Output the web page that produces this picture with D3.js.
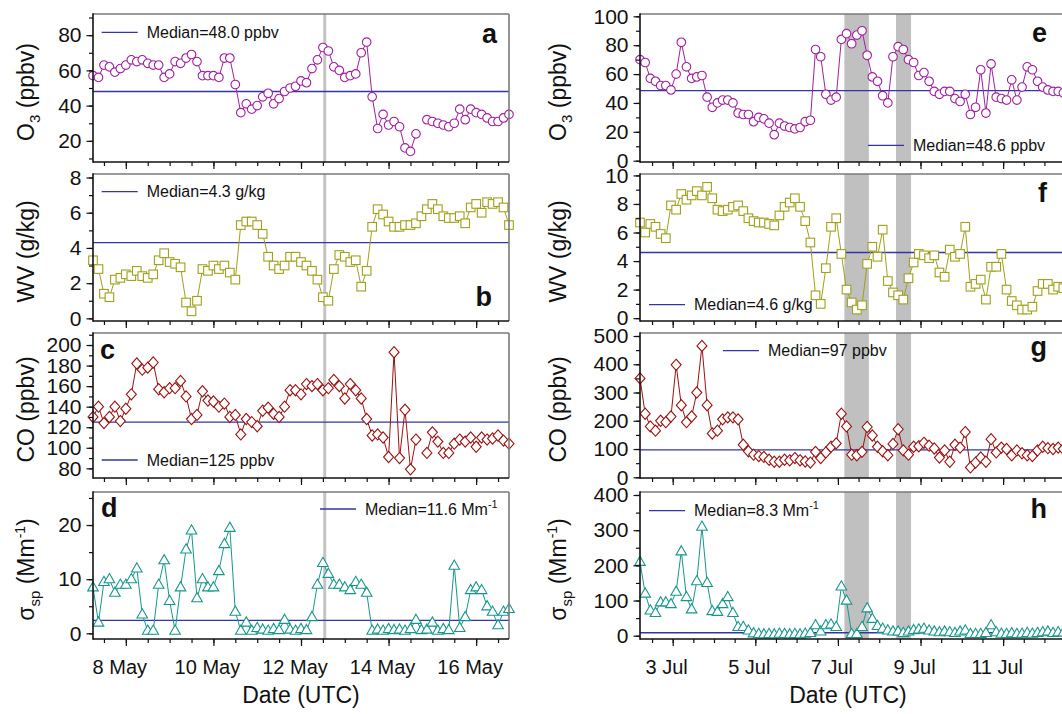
<!DOCTYPE html>
<html><head><meta charset="utf-8">
<script src="https://cdn.jsdelivr.net/npm/d3@7"></script>
<style>body{margin:0;background:#fff}svg text{font-family:Arial,"Liberation Sans",sans-serif;fill:#111}</style>
</head><body><svg id="chart" width="1062" height="714"></svg>
<script>
// ---------------- DATA ----------------
const stepHours = 3;
const mayStart = Date.UTC(2017, 4, 7, 6);
const julStart = Date.UTC(2017, 6, 2, 5);

const o3May = [57,56,63,62,59,61,63,66,65,66, 64,63,63,56,58,65,64,67,69,65, 57,57,57,56,67,67,52,36,41,38, 40,45,47,41,44,48,50,51,54,53, 61,66,73,71,62,60,56,57,58,70, 76,45,27,35,29,31,28,16,14,24, null,32,31,30,29,28,30,38,32,38, 36,35,33,31,31,33,35];
const wvMay = [3.3,2.8,1.4,1.2,2.2,2.3,2.5,2.4,2.7,2.4, 2.3,2.5,3.3,3.7,3.2,3.1,2.9,0.9,0.4,1.0, 2.8,2.7,3.0,2.8,3.0,2.6,2.2,5.3,5.5,5.5, 5.3,4.8,3.5,3.0,2.8,3.0,3.5,3.5,3.2,3.0, 2.7,2.2,1.2,1.0,2.8,3.6,3.5,3.2,3.3,1.8, 2.7,5.2,6.2,5.9,5.5,5.2,5.2,5.3,5.3,5.4, 5.8,6.2,6.5,6.2,5.8,5.7,5.7,5.8,5.4,6.3, 6.5,6.0,6.6,6.5,6.6,6.3,5.3];
const coMay = [130,140,124,130,140,126,138,152,182,176, 178,183,157,154,158,158,165,150,128,132, 155,146,145,140,143,130,132,113,128,125, 121,136,139,133,130,140,156,156,152,162, 160,162,156,158,166,160,148,162,156,148, 128,112,113,110,91,193,90,137,79,108, null,95,115,106,95,95,104,108,106,110, 101,110,108,109,112,107,104];
const sspMay = [8.5,2,9.5,10,7.5,9,9,10,12,3.5, 0.5,0.5,9,13.5,6,0.5,8.5,15.5,19,6.5, 10,8.5,8.5,11.5,16.5,19.5,4,0.5,2,0.5, 1,0.7,0.5,0.8,0.6,2.5,0.7,0.5,0.8,0.6, 3,9,13,11,9,9,8.5,8,9.5,9, 7.5,0.5,0.7,0.5,0.8,0.6,0.7,0.5,0.8,2.5, 0.6,0.7,2,0.5,0.8,0.6,12.5,1,3,8, 8.5,8,5,4,1.5,4,4.5];

const o3Jul = [70,68,57,55,52,52,49,60,82,65, 57,58,59,44,37,40,42,42,40,33, 32,32,27,30,29,26,18,26,24,23, 22,23,27,28,77,72,46,42,44,84, 88,81,87,90,73,58,55,45,40,72, 79,77,70,68,59,61,55,48,46,48, 48,43,41,46,32,37,63,33,67,44, 43,42,56,42,51,65,63,55,51,49, 48,48,47];
const wvJul = [6.7,6.0,6.6,6.4,5.9,5.6,7.9,7.6,8.7,8.3, 8.6,8.9,8.6,9.2,8.4,7.6,7.5,7.6,7.8,7.9, 7.5,7.0,6.8,6.7,6.7,6.6,6.5,7.2,7.8,8.1, 8.4,7.8,6.8,5.3,1.6,1.0,3.5,6.4,7.0,4.5, 2.0,1.1,0.6,0.9,3.8,5.0,4.3,6.2,2.6,1.8, 1.6,1.3,2.8,3.9,4.5,4.4,4.2,4.4,3.2,2.9, 4.8,4.3,4.5,6.4,2.2,2.4,2.7,1.3,3.6,3.6, 4.5,2.0,1.2,0.9,0.6,0.6,0.8,1.9,2.4,2.4, 2.0,2.2,2.1];
const coJul = [350,225,180,165,200,195,215,398,255,195, 215,300,465,255,155,165,205,212,212,205, 115,92,80,75,72,62,55,55,62,60, 68,60,56,52,90,68,88,108,120,225, 180,80,78,90,178,148,108,92,78,118, 170,95,80,108,110,122,112,102,70,95, 55,115,105,160,35,52,70,55,135,88, 105,100,78,95,85,78,75,95,108,103, 100,105,100];
const sspJul = [210,120,72,65,95,95,90,125,240,110, 75,155,310,150,70,68,90,110,65,25, 25,15,7,5,4,5,4,6,5,4, 5,4,6,8,30,12,30,32,25,140, 100,5,5,25,78,48,28,20,15,12, 12,8,12,16,18,20,15,12,10,12, 10,8,12,15,5,5,5,8,30,10, 6,5,7,5,6,8,6,8,10,12, 8,10,9];

const mediansMay = [48.0, 4.3, 125, 2.4];
const mediansJul = [48.6, 4.6, 97, 8.3];
const medianTextMay = [["Median=48.0 ppbv",""],["Median=4.3 g/kg",""],["Median=125 ppbv",""],["Median=11.6 Mm","-1"]];
const medianTextJul = [["Median=48.6 ppbv",""],["Median=4.6 g/kg",""],["Median=97 ppbv",""],["Median=8.3 Mm","-1"]];
const lettersMay = ["a","b","c","d"];
const lettersJul = ["e","f","g","h"];
const yTicksMay = [[20,40,60,80],[0,2,4,6,8],[80,100,120,140,160,180,200],[0,10,20]];
const yTicksJul = [[0,20,40,60,80,100],[0,2,4,6,8,10],[0,100,200,300,400,500],[0,100,200,300,400]];
const xTickLabelsMay = ["8 May","10 May","12 May","14 May","16 May"];
const xTickDaysMay = [8,10,12,14,16];
const xTickLabelsJul = ["3 Jul","5 Jul","7 Jul","9 Jul","11 Jul"];
const xTickDaysJul = [3,5,7,9,11];
const markerLineMay = Date.UTC(2017, 4, 12, 13);
const shadedJul = [[Date.UTC(2017,6,7,3,45), Date.UTC(2017,6,7,18)], [Date.UTC(2017,6,8,9,45), Date.UTC(2017,6,8,18,30)]];

// ---------------- LAYOUT ----------------
const svg = d3.select("#chart");
const rowsY = [[14,162],[174,321],[333,478],[492,639]];
const colors = ["#a0209f","#a0a01c","#9b1111","#17978c"];
const shapes = ["circle","square","diamond","triangle"];
const medianColor = "#3434a8";

const cols = [
  { x0:93, x1:509, t0:mayStart, t1:Date.UTC(2017,4,16,18), start:mayStart,
    series:[o3May,wvMay,coMay,sspMay], medians:mediansMay, mtext:medianTextMay, letters:lettersMay,
    yTicks:yTicksMay, minorStep:[10,1,10,5], tickFont:21,
    yDomains:[[8,92],[-0.15,8.2],[70.6,211.7],[-1.05,26.1]],
    xLabels:xTickLabelsMay, xDays:xTickDaysMay, month:4, titleX:34, dateX:301,
    legend:[{x:101.7,y:32.3},{x:101.7,y:191.7},{x:101.7,y:460},{x:320,y:509}],
    letterPos:[{x:497,y:43,a:"end"},{x:492,y:306,a:"end"},{x:100,y:359,a:"start"},{x:101,y:517,a:"start"}] },
  { x0:640, x1:1075.4, t0:julStart, t1:Date.UTC(2017,6,12,18), start:julStart,
    series:[o3Jul,wvJul,coJul,sspJul], medians:mediansJul, mtext:medianTextJul, letters:lettersJul,
    yTicks:yTicksJul, minorStep:[10,1,50,50], tickFont:21,
    yDomains:[[-0.9,101.6],[-0.2,10.1],[-2.5,510.6],[-9.4,408.5]],
    xLabels:xTickLabelsJul, xDays:xTickDaysJul, month:6, titleX:566, dateX:848,
    legend:[{x:868,y:145.3},{x:649,y:304.7},{x:723,y:350.7},{x:649,y:510.7}],
    letterPos:[{x:1047,y:42,a:"end"},{x:1047,y:202,a:"end"},{x:1047,y:356,a:"end"},{x:1047,y:518,a:"end"}] }
];

function marker(sel, shape, color) {
  if (shape === "circle") sel.append("circle").attr("r", 4.3);
  else if (shape === "square") sel.append("rect").attr("x",-4.3).attr("y",-4.3).attr("width",8.6).attr("height",8.6);
  else if (shape === "diamond") sel.append("path").attr("d","M0,-5.6L5,0L0,5.6L-5,0Z");
  else sel.append("path").attr("d","M0,-5.6L5.3,3.6L-5.3,3.6Z");
  sel.selectAll("*").attr("fill","#fff").attr("stroke",color).attr("stroke-width",1.1);
}

function yTitle(g, row, x, cy) {
  const t = g.append("text").attr("transform",`translate(${x},${cy}) rotate(-90)`)
    .attr("text-anchor","middle").attr("font-size",23);
  if (row === 0) { t.append("tspan").text("O"); t.append("tspan").attr("font-size",15).attr("dy",6).text("3"); t.append("tspan").attr("dy",-6).text(" (ppbv)"); }
  else if (row === 1) t.text("WV (g/kg)");
  else if (row === 2) t.text("CO (ppbv)");
  else { t.append("tspan").text("σ"); t.append("tspan").attr("font-size",15).attr("dy",6).text("sp");
         t.append("tspan").attr("dy",-6).text(" (Mm"); t.append("tspan").attr("font-size",14).attr("dy",-9).text("-1");
         t.append("tspan").attr("dy",9).text(")"); }
}

cols.forEach(c => {
  const x = d3.scaleUtc().domain([c.t0, c.t1]).range([c.x0, c.x1]);
  const xMinor = d3.utcHour.every(12).range(new Date(c.t0), new Date(c.t1 + 1));
  const xMajor = c.xDays.map(d => new Date(Date.UTC(2017, c.month, d)));
  rowsY.forEach((ry, r) => {
    const g = svg.append("g");
    const y = d3.scaleLinear().domain(c.yDomains[r]).range([ry[1], ry[0]]);
    if (c.month === 4) {
      g.append("line").attr("x1",x(markerLineMay)).attr("x2",x(markerLineMay)).attr("y1",ry[0]).attr("y2",ry[1])
        .attr("stroke","#c4c4c4").attr("stroke-width",3);
    } else {
      shadedJul.forEach(s => g.append("rect").attr("x",x(s[0])).attr("width",x(s[1])-x(s[0]))
        .attr("y",ry[0]).attr("height",ry[1]-ry[0]).attr("fill","#c0c0c0"));
    }
    g.append("line").attr("x1",c.x0).attr("x2",c.x1).attr("y1",y(c.medians[r])).attr("y2",y(c.medians[r]))
      .attr("stroke",medianColor).attr("stroke-width",1.3);
    const pts = c.series[r].map((v,i) => ({t: c.start + i*stepHours*3600e3, v}));
    const line = d3.line().defined(d => d.v !== null).x(d => x(d.t)).y(d => y(d.v));
    g.append("path").attr("d", line(pts)).attr("fill","none").attr("stroke",colors[r]).attr("stroke-width",1);
    pts.filter(d => d.v !== null).forEach(d => {
      const m = g.append("g").attr("transform",`translate(${x(d.t)},${y(d.v)})`);
      marker(m, shapes[r], colors[r]);
    });
    g.append("line").attr("x1",c.x0).attr("x2",c.x1).attr("y1",ry[0]).attr("y2",ry[0]).attr("stroke","#7a7a7a").attr("stroke-width",1.6);
    g.append("line").attr("x1",c.x1).attr("x2",c.x1).attr("y1",ry[0]).attr("y2",ry[1]).attr("stroke","#7a7a7a").attr("stroke-width",1.6);
    g.append("line").attr("x1",c.x0).attr("x2",c.x0).attr("y1",ry[0]-0.8).attr("y2",ry[1]+0.8).attr("stroke","#111").attr("stroke-width",1.6);
    g.append("line").attr("x1",c.x0).attr("x2",c.x1).attr("y1",ry[1]).attr("y2",ry[1]).attr("stroke","#111").attr("stroke-width",1.6);
    const dom = c.yDomains[r];
    const minor = d3.range(Math.ceil(dom[0]/c.minorStep[r])*c.minorStep[r], dom[1], c.minorStep[r]);
    const ya = g.append("g").attr("transform",`translate(${c.x0},0)`)
      .call(d3.axisLeft(y).tickValues(minor).tickSize(4).tickFormat(""));
    const yb = g.append("g").attr("transform",`translate(${c.x0},0)`)
      .call(d3.axisLeft(y).tickValues(c.yTicks[r]).tickSize(6.5).tickPadding(5).tickFormat(d3.format("d")));
    [ya,yb].forEach(a => { a.select(".domain").remove(); a.selectAll("line").attr("stroke","#111").attr("stroke-width",1.2); });
    yb.selectAll("text").attr("font-size",c.tickFont).attr("font-family","Arial, Liberation Sans, sans-serif").attr("fill","#111");
    const xa = g.append("g").attr("transform",`translate(0,${ry[1]})`)
      .call(d3.axisBottom(x).tickValues(xMinor).tickSize(4).tickFormat(""));
    const xb = g.append("g").attr("transform",`translate(0,${ry[1]})`)
      .call(d3.axisBottom(x).tickValues(xMajor).tickSize(7).tickFormat(""));
    [xa,xb].forEach(a => { a.select(".domain").remove(); a.selectAll("line").attr("stroke","#111").attr("stroke-width",1.2); });
    if (r === 3) {
      xMajor.forEach((d,i) => g.append("text").attr("x", x(d)-6).attr("y", 674).attr("text-anchor","middle")
        .attr("font-size",20).text(c.xLabels[i]));
    }
    yTitle(g, r, c.titleX, (ry[0]+ry[1])/2 + 4);
    const L = c.legend[r];
    g.append("line").attr("x1",L.x).attr("x2",L.x+36).attr("y1",L.y).attr("y2",L.y).attr("stroke",medianColor).attr("stroke-width",1.3);
    const lt = g.append("text").attr("x",L.x+45).attr("y",L.y+5.5).attr("font-size",16);
    lt.append("tspan").text(c.mtext[r][0]);
    if (c.mtext[r][1]) lt.append("tspan").attr("font-size",11).attr("dy",-7).text(c.mtext[r][1]);
    const P = c.letterPos[r];
    g.append("text").attr("x",P.x).attr("y",P.y).attr("text-anchor",P.a).attr("font-size",27).attr("font-weight","bold").text(c.letters[r]);
  });
  svg.append("text").attr("x",c.dateX).attr("y",703).attr("text-anchor","middle")
    .attr("font-size",23).text("Date (UTC)");
});
</script></body></html>
